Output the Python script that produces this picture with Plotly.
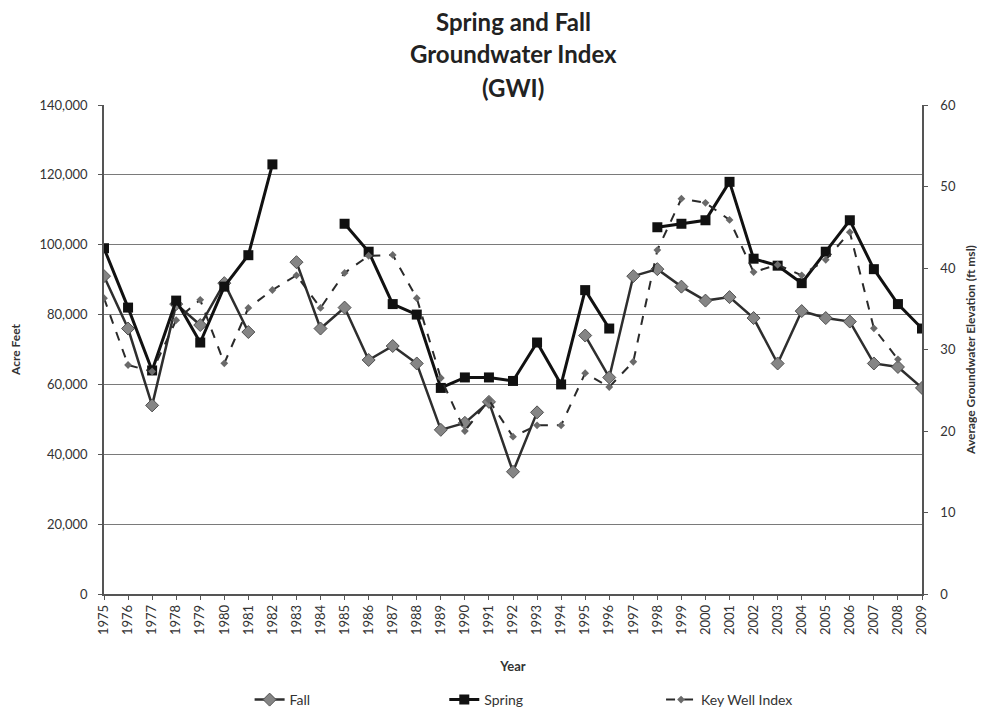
import plotly.graph_objects as go

years = list(range(1975, 2010))

fall = [91000, 76000, 54000, 83000, 77000, 89000, 75000, None, 95000, 76000,
        82000, 67000, 71000, 66000, 47000, 49000, 55000, 35000, 52000, None,
        74000, 62000, 91000, 93000, 88000, 84000, 85000, 79000, 66000, 81000,
        79000, 78000, 66000, 65000, 59000]

spring = [99000, 82000, 64000, 84000, 72000, 88000, 97000, 123000, None, None,
          106000, 98000, 83000, 80000, 59000, 62000, 62000, 61000, 72000, 60000,
          87000, 76000, None, 105000, 106000, 107000, 118000, 96000, 94000, 89000,
          98000, 107000, 93000, 83000, 76000]

key_well = [36.3, 28.1, 27.3, 33.6, 36.1, 28.3, 35.1, 37.3, 39.1, 35.1,
            39.4, 41.5, 41.6, 36.3, 26.5, 20.0, 23.8, 19.3, 20.7, 20.7,
            27.1, 25.4, 28.5, 42.2, 48.5, 48.0, 45.9, 39.5, 40.4, 39.1,
            41.0, 44.4, 32.6, 28.8, None]

title_lines = ["Spring and Fall", "Groundwater Index", "(GWI)"]

left_ticks = list(range(0, 140001, 20000))
right_ticks = list(range(0, 61, 10))

FONT = "Lato, 'Open Sans', sans-serif"
TXT = "#333333"
AX = "#555555"

W, H = 977, 707
ML, MR, MT, MB = 96, 63, 97, 121
PLOT_H = H - MT - MB

fig = go.Figure()

fig.add_trace(go.Scatter(
    x=years, y=fall, name="Fall", mode="lines+markers",
    line=dict(color="#2e2e2e", width=2.5),
    marker=dict(symbol="diamond", size=10, color="#858585",
                line=dict(color="#505050", width=1)),
    connectgaps=False, legend="legend",
))
fig.add_trace(go.Scatter(
    x=years, y=spring, name="Spring", mode="lines+markers",
    line=dict(color="#111111", width=3),
    marker=dict(symbol="square", size=10, color="#111111"),
    connectgaps=False, legend="legend2",
))
fig.add_trace(go.Scatter(
    x=years, y=key_well, name="Key Well Index", mode="lines+markers",
    line=dict(color="#2a2a2a", width=2, dash="dash"),
    marker=dict(symbol="diamond", size=6, color="#6a6a6a"),
    connectgaps=False, yaxis="y2", legend="legend3",
))

# title as three centred lines
title_px = [14, 46, 79]  # line centres, px from figure top
for txt, py in zip(title_lines, title_px):
    fig.add_annotation(
        text=f"<b>{txt}</b>", xref="paper", yref="paper",
        x=0.5, y=(H - MB - py) / PLOT_H, xanchor="center", yanchor="middle",
        showarrow=False, font=dict(family=FONT, size=24, color="#222222"),
    )

leg_common = dict(orientation="h", y=-0.2168, yanchor="middle", xanchor="left",
                  font=dict(family=FONT, size=14, color=TXT),
                  bgcolor="rgba(0,0,0,0)")

fig.update_layout(
    width=W, height=H,
    paper_bgcolor="white", plot_bgcolor="white",
    margin=dict(l=ML, r=MR, t=MT, b=MB, autoexpand=False),
    font=dict(family=FONT, size=13, color=TXT),
    xaxis=dict(
        range=[1975, 2009], tickmode="array", tickvals=years,
        ticktext=[str(y) for y in years], tickangle=-90,
        showgrid=False, showline=True, linecolor=AX, linewidth=1.5,
        ticks="outside", ticklen=4, tickcolor=AX, automargin=False,
        title=dict(text="<b>Year</b>", font=dict(size=13, color=TXT), standoff=28),
        zeroline=False,
    ),
    yaxis=dict(
        range=[0, 140000], tickmode="array", tickvals=left_ticks,
        ticktext=[f"{v:,}" for v in left_ticks],
        showgrid=True, gridcolor="#7a7a7a", gridwidth=1.3,
        showline=True, linecolor=AX, linewidth=1.5,
        ticks="outside", ticklen=4, tickcolor=AX, automargin=False,
        ticklabelstandoff=8,
        title=dict(text="<b>Acre Feet</b>", font=dict(size=12, color=TXT), standoff=24),
        zeroline=False,
    ),
    yaxis2=dict(
        range=[0, 60], tickmode="array", tickvals=right_ticks,
        overlaying="y", side="right", showgrid=False,
        showline=True, linecolor=AX, linewidth=1.5,
        ticks="outside", ticklen=4, tickcolor=AX, automargin=False,
        ticklabelstandoff=10,
        title=dict(text="<b>Average Groundwater Elevation (ft msl)</b>",
                   font=dict(size=12, color=TXT), standoff=12),
        zeroline=False,
    ),
    legend=dict(x=0.178, **leg_common),
    legend2=dict(x=0.416, **leg_common),
    legend3=dict(x=0.681, **leg_common),
    showlegend=True,
)

fig.write_html("out.html")
